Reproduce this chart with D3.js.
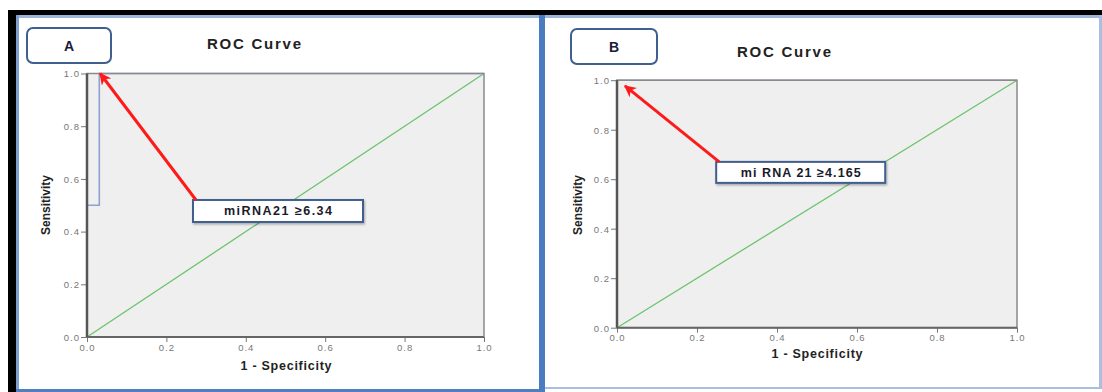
<!DOCTYPE html>
<html><head><meta charset="utf-8">
<script src="https://cdn.jsdelivr.net/npm/d3@7"></script>
<style>body{margin:0;background:#fff}svg{display:block}</style>
</head><body><svg id="c" width="1102" height="392"></svg>
<script>
// ---- data ----
const panelLetters = ["A", "B"];
const chartTitle = "ROC Curve";
const xAxisTitle = "1 - Specificity";
const yAxisTitle = "Sensitivity";
const tickValues = [0.0, 0.2, 0.4, 0.6, 0.8, 1.0];
const referenceLine = [0, 1];
const rocA_fpr = [0, 0, 0.031, 0.031, 1];
const rocA_tpr = [0, 0.5, 0.5, 1.0, 1.0];
const rocB_fpr = [0, 0, 1];
const rocB_tpr = [0, 1.0, 1.0];
const cutoffLabels = ["miRNA21 \u22656.34", "mi RNA 21 \u22654.165"];
const arrowTipFpr = [0.033, 0.02];
const arrowTipTpr = [1.0, 0.977];
const labelFpr = [0.267, 0.248];
const labelTpr = [0.52, 0.67];

// ---- layout ----
const svg = d3.select("#c");
const defs = svg.append("defs");
defs.append("marker").attr("id","ah").attr("viewBox","0 0 10 10").attr("refX",9).attr("refY",5)
  .attr("markerWidth",4).attr("markerHeight",4).attr("orient","auto")
  .append("path").attr("d","M0,0 L10,5 L0,10 L3,5 Z").attr("fill","#ff1a1a");
const sh = defs.append("filter").attr("id","sh").attr("x","-10%").attr("y","-20%").attr("width","130%").attr("height","160%");
sh.append("feDropShadow").attr("dx",1).attr("dy",1.5).attr("stdDeviation",1).attr("flood-color","#000").attr("flood-opacity",0.3);

// frames
svg.append("rect").attr("x",8).attr("y",10).attr("width",1094).attr("height",5).attr("fill","#000");
svg.append("rect").attr("x",8).attr("y",10).attr("width",8).attr("height",382).attr("fill","#000");
svg.append("rect").attr("x",16).attr("y",15).attr("width",1086).attr("height",3).attr("fill","#9db5d9");
svg.append("rect").attr("x",16).attr("y",15).attr("width",3).attr("height",377).attr("fill","#7f9fcf");
svg.append("rect").attr("x",16).attr("y",389).attr("width",528).attr("height",3).attr("fill","#4f7fbf");
svg.append("rect").attr("x",539).attr("y",15).attr("width",6).attr("height",377).attr("fill","#4a7cc0");
svg.append("rect").attr("x",545).attr("y",387).attr("width",557).attr("height",2).attr("fill","#a9bfe0");
svg.append("rect").attr("x",1099).attr("y",15).attr("width",3).attr("height",374).attr("fill","#a9bfe0");

const font = "Liberation Sans, Arial, sans-serif";
const panels = [
  {x0:87, x1:484, y0:337, y1:73.5, box:[27,28,84,35], title:[254,44], xt:[286,366], yt:[46,205], fpr:rocA_fpr, tpr:rocA_tpr, lbl:[170,22], lw:108},
  {x0:617, x1:1017, y0:327.7, y1:80.2, box:[571,29,86,35], title:[784,52], xt:[817,354], yt:[578,205], fpr:rocB_fpr, tpr:rocB_tpr, lbl:[169,21], lw:120}
];

panels.forEach((p, i) => {
  const g = svg.append("g");
  const x = d3.scaleLinear().domain([0,1]).range([p.x0, p.x1]);
  const y = d3.scaleLinear().domain([0,1]).range([p.y0, p.y1]);

  // letter box
  g.append("rect").attr("x",p.box[0]).attr("y",p.box[1]).attr("width",p.box[2]).attr("height",p.box[3])
    .attr("rx",6).attr("fill","#fff").attr("stroke","#3f5f8f").attr("stroke-width",2);
  g.append("text").attr("x",p.box[0]+p.box[2]/2).attr("y",p.box[1]+p.box[3]/2+5).attr("text-anchor","middle")
    .attr("font-family",font).attr("font-weight","bold").attr("font-size",14)
    .attr("fill","#1a1a3a").text(panelLetters[i]);
  // title
  g.append("text").attr("x",p.title[0]).attr("y",p.title[1]+5).attr("text-anchor","middle")
    .attr("font-family",font).attr("font-weight","bold").attr("font-size",15)
    .attr("fill","#222").attr("textLength",94).attr("lengthAdjust","spacing").text(chartTitle);

  // plot background
  g.append("rect").attr("x",x(0)).attr("y",y(1)).attr("width",x(1)-x(0)).attr("height",y(0)-y(1))
    .attr("fill","#efefef");

  // reference diagonal
  g.append("line").attr("x1",x(referenceLine[0])).attr("y1",y(referenceLine[0]))
    .attr("x2",x(referenceLine[1])).attr("y2",y(referenceLine[1])).attr("stroke","#6cc46c").attr("stroke-width",1.3);

  // ROC curve
  const line = d3.line().x(d=>x(d[0])).y(d=>y(d[1]));
  const pts = p.fpr.map((f,k)=>[f,p.tpr[k]]);
  g.append("path").attr("d",line(pts)).attr("fill","none").attr("stroke","#8ea2d2").attr("stroke-width",1.6);

  // plot border (over the curve)
  g.append("rect").attr("x",x(0)).attr("y",y(1)).attr("width",x(1)-x(0)).attr("height",y(0)-y(1))
    .attr("fill","none").attr("stroke","#8a8a8a").attr("stroke-width",1.5);

  // axes
  const ax = g.append("g").attr("transform",`translate(0,${y(0)})`)
    .call(d3.axisBottom(x).tickValues(tickValues).tickFormat(d3.format(".1f")).tickSize(5).tickPadding(2));
  const ay = g.append("g").attr("transform",`translate(${x(0)},0)`)
    .call(d3.axisLeft(y).tickValues(tickValues).tickFormat(d3.format(".1f")).tickSize(6).tickPadding(1));
  [ax, ay].forEach(a => {
    a.select(".domain").remove();
    a.selectAll(".tick line").attr("stroke","#777").attr("stroke-width",1);
    a.selectAll(".tick text").attr("fill","#777").attr("font-family",font)
      .attr("font-size",9.5).attr("letter-spacing","1px");
  });
  ay.selectAll(".tick text").attr("dy","0.35em");
  g.append("line").attr("x1",x(0)).attr("x2",x(1)).attr("y1",y(0)).attr("y2",y(0)).attr("stroke","#666").attr("stroke-width",2);
  g.append("line").attr("x1",x(0)).attr("x2",x(0)).attr("y1",y(0)).attr("y2",y(1)).attr("stroke","#555").attr("stroke-width",2.5);

  // axis titles
  g.append("text").attr("x",p.xt[0]).attr("y",p.xt[1]+4).attr("text-anchor","middle")
    .attr("font-family",font).attr("font-weight","bold").attr("font-size",12.5)
    .attr("fill","#222").attr("textLength",91).attr("lengthAdjust","spacing").text(xAxisTitle);
  g.append("text").attr("transform",`translate(${p.yt[0]+4},${p.yt[1]}) rotate(-90)`).attr("text-anchor","middle")
    .attr("font-family","Liberation Sans Narrow, Liberation Sans, Arial, sans-serif").attr("font-weight","bold").attr("font-size",12)
    .attr("fill","#222").text(yAxisTitle);

  // label box
  const lx = x(labelFpr[i]), ly = y(labelTpr[i]);
  g.append("rect").attr("x",lx).attr("y",ly).attr("width",p.lbl[0]).attr("height",p.lbl[1])
    .attr("fill","#fff").attr("stroke","#3f5f8f").attr("stroke-width",2).attr("filter","url(#sh)");
  g.append("text").attr("x",lx+p.lbl[0]/2).attr("y",ly+p.lbl[1]/2+4.5).attr("text-anchor","middle")
    .attr("font-family",font).attr("font-weight","bold").attr("font-size",12.5)
    .attr("fill","#1a1a2a").attr("textLength",p.lw).attr("lengthAdjust","spacing").text(cutoffLabels[i]);

  // arrow
  g.append("line").attr("x1",lx+3).attr("y1",ly)
    .attr("x2",x(arrowTipFpr[i])).attr("y2",y(arrowTipTpr[i]))
    .attr("stroke","#ff1a1a").attr("stroke-width",3).attr("marker-end","url(#ah)");
});
</script></body></html>
